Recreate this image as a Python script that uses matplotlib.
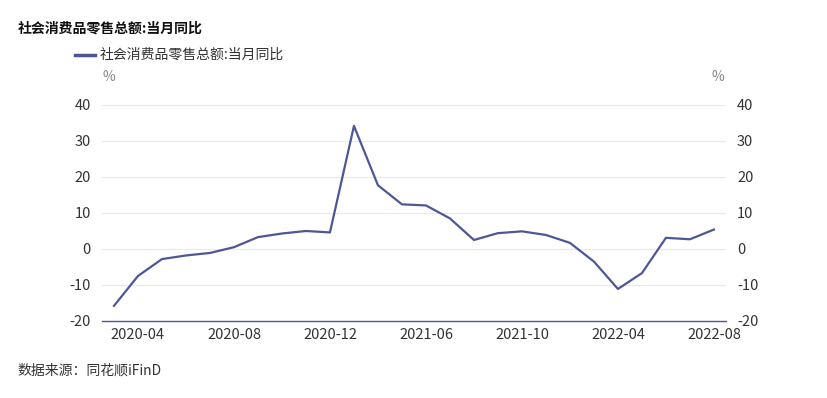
import matplotlib
matplotlib.use("Agg")
import matplotlib.pyplot as plt

plt.rcParams['font.family'] = ['Noto Sans CJK SC', 'DejaVu Sans']

# 社会消费品零售总额:当月同比 (%), 1-2月无单月数据
months = ['2020-03', '2020-04', '2020-05', '2020-06', '2020-07', '2020-08',
          '2020-09', '2020-10', '2020-11', '2020-12',
          '2021-03', '2021-04', '2021-05', '2021-06', '2021-07', '2021-08',
          '2021-09', '2021-10', '2021-11', '2021-12',
          '2022-03', '2022-04', '2022-05', '2022-06', '2022-07', '2022-08']
yoy = [-15.8, -7.5, -2.8, -1.8, -1.1, 0.5, 3.3, 4.3, 5.0, 4.6,
       34.2, 17.7, 12.4, 12.1, 8.5, 2.5, 4.4, 4.9, 3.9, 1.7,
       -3.5, -11.1, -6.7, 3.1, 2.7, 5.4]
yticks = [-20, -10, 0, 10, 20, 30, 40]
series_name = '社会消费品零售总额:当月同比'

line_color = '#4e5796'
text_color = '#333333'
grid_color = '#e8e8f4'

fig = plt.figure(figsize=(8.27, 3.98), dpi=100)
ax = fig.add_axes([0.1233, 0.1935, 0.7545, 0.5427])

x = list(range(len(months)))
ax.plot(x, yoy, color=line_color, linewidth=1.6)

ax.set_xlim(-0.5, len(months) - 0.5)
ax.set_ylim(-20, 40)
ax.set_yticks(yticks)
ax.set_yticklabels([str(v) for v in yticks])
tick_idx = list(range(1, len(months), 4))
ax.set_xticks(tick_idx)
ax.set_xticklabels([months[i] for i in tick_idx])

for v in yticks[1:]:
    ax.axhline(v, color=grid_color, linewidth=0.8, zorder=0)

for s in ['top', 'left', 'right']:
    ax.spines[s].set_visible(False)
ax.spines['bottom'].set_color(line_color)
ax.spines['bottom'].set_linewidth(1.0)

ax.tick_params(axis='both', length=0, colors=text_color, labelsize=10.5)
ax.tick_params(axis='y', pad=8)
ax.tick_params(axis='x', pad=5)

ax2 = ax.twinx()
ax2.set_ylim(-20, 40)
ax2.set_yticks(yticks)
ax2.set_yticklabels([str(v) for v in yticks])
for s in ['top', 'left', 'right', 'bottom']:
    ax2.spines[s].set_visible(False)
ax2.tick_params(axis='y', length=0, colors=text_color, labelsize=10.5, pad=8)

fig.text(0.021, 0.928, series_name, fontsize=10, fontweight='bold',
         color='#111111', va='center')
fig.add_artist(plt.Line2D([0.0907, 0.1149], [0.862, 0.862],
                          color=line_color, linewidth=2.5,
                          transform=fig.transFigure))
fig.text(0.121, 0.862, series_name, fontsize=10, color=text_color, va='center')
fig.text(0.124, 0.806, '%', fontsize=10, color='#888888', ha='left', va='center')
fig.text(0.876, 0.806, '%', fontsize=10, color='#888888', ha='right', va='center')
fig.text(0.021, 0.068, '数据来源：同花顺iFinD', fontsize=10, color=text_color,
         va='center')

fig.savefig('out.png', dpi=100, facecolor='white')
